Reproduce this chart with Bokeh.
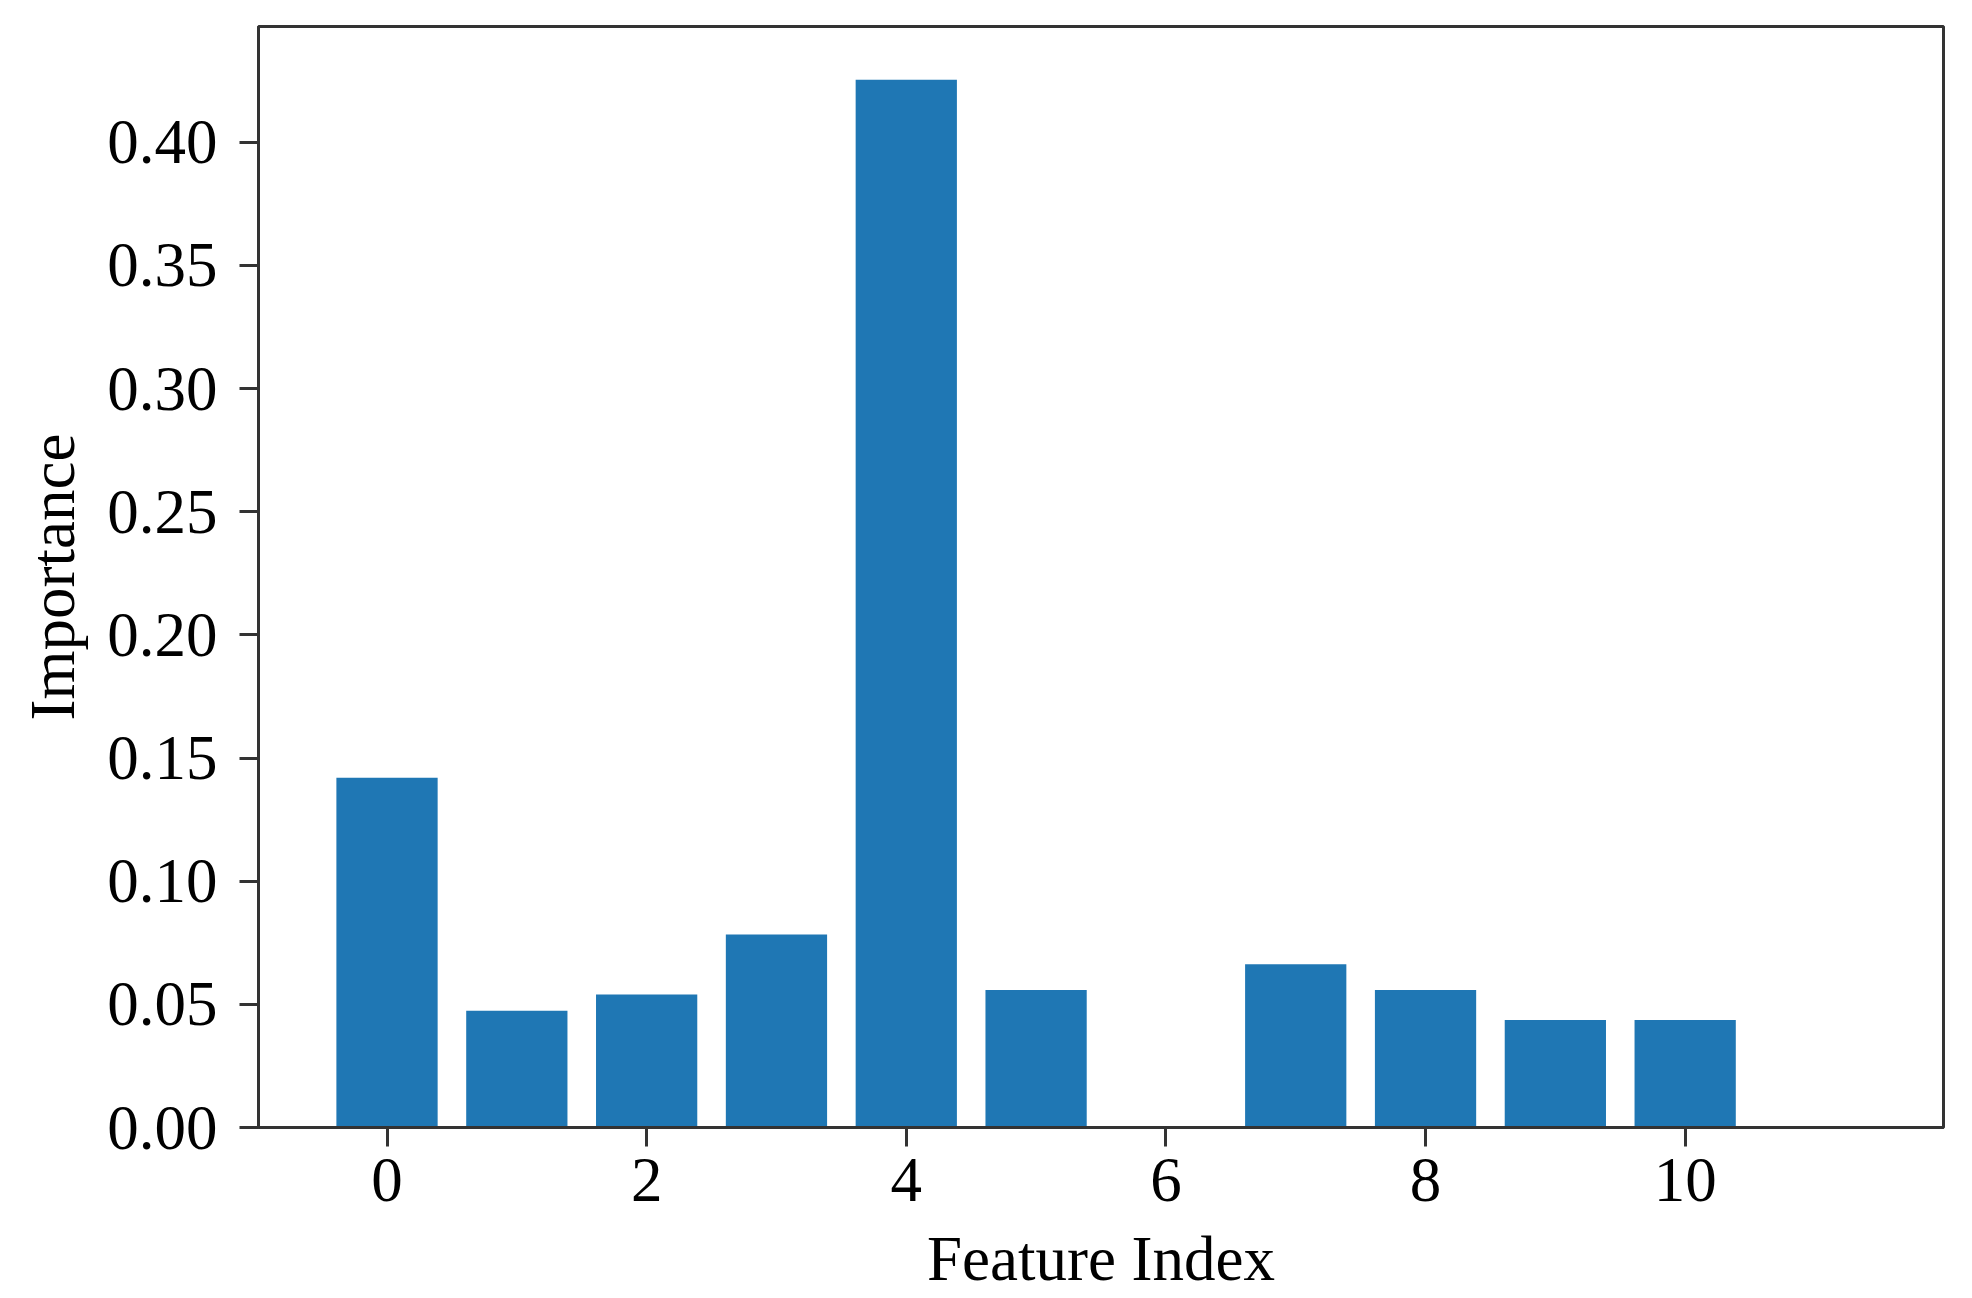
from bokeh.plotting import figure
from bokeh.models import Range1d, FixedTicker, PrintfTickFormatter
from bokeh.embed import file_html
from bokeh.resources import INLINE

feature_index = [0, 1, 2, 3, 4, 5, 6, 7, 8, 9, 10, 11]
importance = [0.142, 0.0474, 0.054, 0.0784, 0.4254, 0.0558, 0.0, 0.0663, 0.0558, 0.0436, 0.0436, 0.0]
x_ticks = [0, 2, 4, 6, 8, 10]
y_ticks = [0.0, 0.05, 0.10, 0.15, 0.20, 0.25, 0.30, 0.35, 0.40]

FONT = "Liberation Serif"
FS = "63px"
DARK = "#333333"

p = figure(frame_width=1685, frame_height=1101,
           min_border_left=258, min_border_top=26, min_border_right=21, min_border_bottom=155,
           x_range=Range1d(-0.99, 11.99), y_range=Range1d(0, 0.447),
           output_backend="svg", toolbar_location=None)

p.vbar(x=feature_index, top=importance, width=0.78, bottom=0, color="#1f77b4", line_color=None)

p.xgrid.visible = False
p.ygrid.visible = False
p.outline_line_color = DARK
p.outline_line_width = 3
p.outline_line_alpha = 1

p.xaxis.ticker = FixedTicker(ticks=x_ticks)
p.yaxis.ticker = FixedTicker(ticks=y_ticks)
p.yaxis.formatter = PrintfTickFormatter(format="%.2f")

p.xaxis.axis_label = "Feature Index"
p.yaxis.axis_label = "Importance"

for ax in (p.xaxis, p.yaxis):
    ax.axis_line_color = DARK
    ax.axis_line_width = 3
    ax.major_tick_line_color = DARK
    ax.major_tick_line_width = 3
    ax.major_tick_in = 0
    ax.major_tick_out = 19
    ax.minor_tick_line_color = None
    ax.major_label_text_font = FONT
    ax.major_label_text_font_size = FS
    ax.major_label_text_color = "black"
    ax.axis_label_text_font = FONT
    ax.axis_label_text_font_size = FS
    ax.axis_label_text_font_style = "normal"
    ax.axis_label_text_color = "black"

p.xaxis.major_label_standoff = 12
p.xaxis.axis_label_standoff = 20
p.yaxis.major_label_standoff = 22
p.yaxis.axis_label_standoff = 16

open("out.html", "w").write(file_html(p, INLINE))
